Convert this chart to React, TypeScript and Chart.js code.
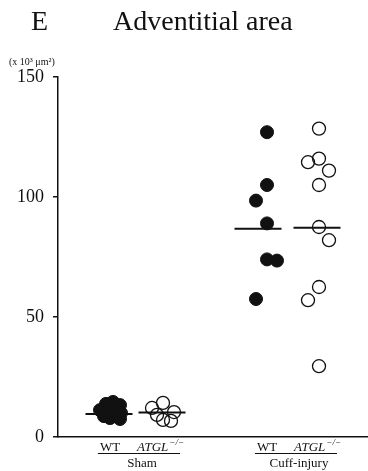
import React, { useEffect, useRef } from "react";
import { Chart, registerables } from "chart.js";

Chart.register(...registerables);

// ---------- text ----------
const panelLetter = "E";
const chartTitle = "Adventitial area";
const unitLabel = "(x 10³ μm²)";
const groupNames = ["Sham", "Cuff-injury"];
const genotypeWT = "WT";
const genotypeKO = "ATGL";
const koSuffix = "−/−";
const yTickValues = [0, 50, 100, 150];

// ---------- data ----------
// x positions of the four columns (Sham WT, Sham ATGL, Cuff WT, Cuff ATGL)
const columnCenters = [52, 104, 209, 261];
const meanCenters = [51, 104, 200, 259];

const shamWT = [14.6, 13.8, 13.3, 11.2, 10, 7.5, 7.9, 8.7, 11.2];
const shamWTJitter = [3, -4, 10, -10, 11, 10, 0, -6, 3];

const shamKO = [14.2, 12.1, 10.4, 9.2, 7.1, 6.7];
const shamKOJitter = [1, -10, 12, -5, 1, 9];

const cuffWT = [127, 105, 98.5, 89, 74, 73.5, 57.5];
const cuffWTJitter = [0, 0, -11, 0, 0, 10, -11];

const cuffKO = [128.5, 114.5, 116, 111, 105, 87.5, 82, 62.5, 57, 29.5];
const cuffKOJitter = [0, -11, 0, 10, 0, 0, 10, 0, -11, 0];

const meanValues = [9.6, 10.2, 86.8, 87.2];
const meanHalfWidth = 23.5;

const INK = "#111111";
const SERIF = "'Liberation Serif', 'DejaVu Serif', serif";

function toPoints(values: number[], jitter: number[], center: number) {
  return values.map((v, i) => ({ x: center + jitter[i], y: v }));
}

export default function App() {
  const ref = useRef<HTMLCanvasElement | null>(null);

  useEffect(() => {
    if (!ref.current) return;

    const filled = {
      backgroundColor: INK,
      borderColor: INK,
      borderWidth: 1,
      pointRadius: 6.5,
      pointHoverRadius: 6.5,
    };
    const open = {
      backgroundColor: "rgba(0,0,0,0)",
      borderColor: INK,
      borderWidth: 1.3,
      pointRadius: 6.5,
      pointHoverRadius: 6.5,
    };

    const meanSets = meanValues.map((m, i) => ({
      data: [
        { x: meanCenters[i] - meanHalfWidth, y: m },
        { x: meanCenters[i] + meanHalfWidth, y: m },
      ],
      showLine: true,
      borderColor: INK,
      borderWidth: 2,
      pointRadius: 0,
      pointHoverRadius: 0,
    }));

    const labelsPlugin = {
      id: "labels",
      afterDraw(chart: any) {
        const ctx = chart.ctx;
        const xs = chart.scales.x;
        ctx.save();
        ctx.fillStyle = INK;
        ctx.strokeStyle = INK;
        // title
        ctx.textBaseline = "alphabetic";
        ctx.textAlign = "left";
        ctx.font = `28px ${SERIF}`;
        ctx.fillText(panelLetter, 31, 30);
        ctx.fillText(chartTitle, 113, 30);
        // unit
        ctx.font = `10px ${SERIF}`;
        ctx.fillText(unitLabel, 9, 65);

        // group labels
        for (let g = 0; g < 2; g++) {
          const wtX = xs.getPixelForValue(columnCenters[g * 2]);
          const koX = xs.getPixelForValue(columnCenters[g * 2 + 1]);
          ctx.font = `13px ${SERIF}`;
          ctx.textAlign = "center";
          ctx.fillText(genotypeWT, wtX, 451);
          const wtW = ctx.measureText(genotypeWT).width;
          ctx.textAlign = "left";
          ctx.font = `italic 13px ${SERIF}`;
          const koStart = koX - 25;
          ctx.fillText(genotypeKO, koStart, 451);
          const koW = ctx.measureText(genotypeKO).width;
          ctx.font = `italic 9px ${SERIF}`;
          ctx.fillText(koSuffix, koStart + koW + 1, 445);
          const supW = ctx.measureText(koSuffix).width;
          const lineL = wtX - wtW / 2 - 2;
          const lineR = koStart + koW + supW * 0.8;
          ctx.lineWidth = 1.2;
          ctx.beginPath();
          ctx.moveTo(lineL, 453.5);
          ctx.lineTo(lineR, 453.5);
          ctx.stroke();
          ctx.font = `13px ${SERIF}`;
          ctx.textAlign = "center";
          ctx.fillText(groupNames[g], (lineL + lineR) / 2 + 3, 467);
        }
        ctx.restore();
      },
    };

    const chart = new Chart(ref.current, {
      type: "scatter",
      data: {
        datasets: [
          { data: toPoints(shamWT, shamWTJitter, columnCenters[0]), ...filled },
          { data: toPoints(shamKO, shamKOJitter, columnCenters[1]), ...open },
          { data: toPoints(cuffWT, cuffWTJitter, columnCenters[2]), ...filled },
          { data: toPoints(cuffKO, cuffKOJitter, columnCenters[3]), ...open },
          ...meanSets,
        ] as any,
      },
      options: {
        responsive: false,
        animation: false,
        events: [],
        layout: { padding: { top: 77, right: 0, bottom: 0, left: 0 }, autoPadding: false },
        plugins: {
          legend: { display: false },
          tooltip: { enabled: false },
          title: { display: false },
        },
        scales: {
          x: {
            type: "linear",
            min: 0,
            max: 310,
            ticks: { display: false },
            grid: { display: false },
            border: { display: true, color: INK, width: 1.5 },
            afterFit(s: any) {
              s.height = 34;
              s.paddingLeft = 0;
              s.paddingRight = 0;
            },
          },
          y: {
            type: "linear",
            min: 0,
            max: 150,
            afterBuildTicks(s: any) {
              s.ticks = yTickValues.map((v) => ({ value: v }));
            },
            ticks: {
              color: INK,
              padding: 9,
              font: { family: SERIF, size: 18 },
            },
            grid: {
              drawOnChartArea: false,
              drawTicks: true,
              tickLength: 5,
              color: INK,
              lineWidth: 1.5,
            },
            border: { display: true, color: INK, width: 1.5 },
            afterFit(s: any) {
              s.width = 58;
              s.paddingTop = 0;
              s.paddingBottom = 0;
            },
          },
        },
      },
      plugins: [labelsPlugin],
    });

    return () => chart.destroy();
  }, []);

  return (
    <div style={{ position: "absolute", left: 0, top: 0, width: 368, height: 471, background: "#fff" }}>
      <canvas ref={ref} width={368} height={471} style={{ display: "block" }} />
    </div>
  );
}
